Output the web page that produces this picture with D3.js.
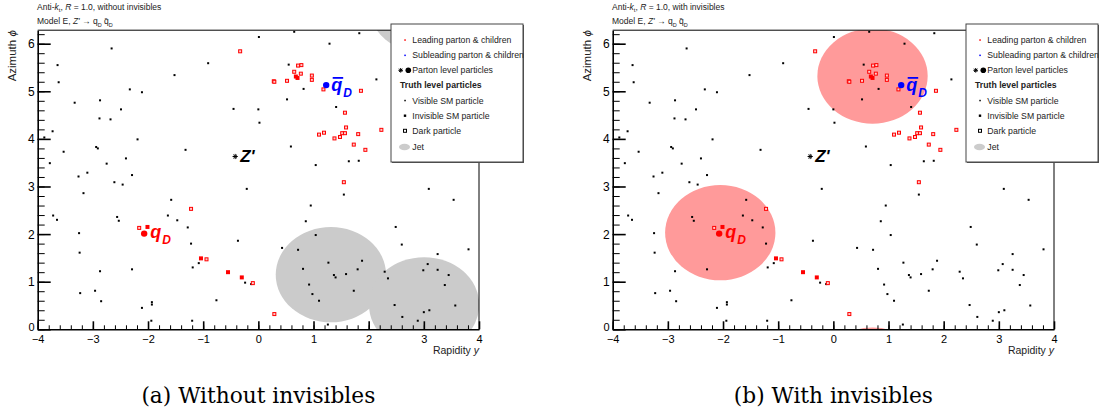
<!DOCTYPE html>
<html><head><meta charset="utf-8">
<script src="https://cdn.jsdelivr.net/npm/d3@7"></script>
<style>
body{margin:0;background:#fff}
svg text{font-family:"Liberation Sans",Arial,Helvetica,sans-serif}
svg text.caption{font-family:"DejaVu Serif",serif}
</style>
</head><body>
<svg id="chart" width="1100" height="417"></svg>
<script>
// Axis ticks
const xTicks = [-4, -3, -2, -1, 0, 1, 2, 3, 4];
const yTicks = [0, 1, 2, 3, 4, 5, 6];

// Event display: particles as [rapidity y, azimuth phi]
const visibleSM = [
  [-2.66,5.90],[-3.64,5.55],[-3.62,5.19],[-1.52,5.34],[-0.91,5.59],[-2.33,5.04],[-2.11,4.98],
  [-3.33,4.76],[-2.87,4.81],[-2.49,4.62],[-2.88,4.43],[-2.68,4.41],[-0.45,4.63],[-3.73,4.16],
  [-3.88,4.03],[-2.19,3.99],[-2.94,3.83],[-2.91,3.80],[-3.53,3.73],[-1.32,3.77],[-3.78,3.49],
  [-2.75,3.48],[-2.40,3.59],[-3.26,3.21],[-3.10,3.29],[-2.29,3.24],
  [0.01,6.14],[0.00,4.62],
  [-2.61,3.09],[-2.46,3.04],[-3.17,2.86],[-1.58,2.72],[-0.21,2.95],[-3.72,2.39],[-3.65,2.30],
  [-2.56,2.36],[-2.53,2.28],[-1.64,2.39],[-1.47,2.29],[-1.28,2.14],[-3.25,2.02],[-1.22,1.80],
  [-0.37,1.86],[-3.24,1.61],[-2.87,1.22],[-2.29,1.26],[-1.19,1.30],[-1.08,1.39],[-2.96,0.81],
  [-3.23,0.76],[-2.85,0.59],[-0.76,0.61],[-1.93,0.57],[-1.93,0.52],[-2.11,0.45],[-1.94,0.18],
  [-1.20,0.18],[-0.24,0.98],
  [1.55,2.83],[0.95,2.60],[0.86,2.27],[1.04,1.98],[0.43,1.71],[0.72,1.67],[1.27,1.40],
  [0.81,1.27],[1.37,1.14],[1.40,1.09],[1.59,1.16],[1.80,1.26],[1.88,1.44],[0.92,0.94],
  [1.73,0.81],[0.98,0.74],[1.10,0.60],[1.26,0.10],[-0.13,0.95],[2.49,2.15],[2.60,1.78],
  [3.09,2.95],[3.54,2.72],[3.81,1.68],[3.25,1.58],[2.29,1.21],[2.35,1.07],[2.99,1.24],
  [3.07,1.37],[3.25,1.25],[3.45,1.14],[3.38,0.93],[2.47,0.51],[3.57,0.50],[2.61,0.26],
  [3.00,0.36],[3.10,0.40],[2.89,0.18],
  [0.65,6.25],[1.83,6.22],[1.29,6.00],[0.55,5.56],[0.82,5.05],[2.14,5.25],[0.52,4.83],
  [1.41,4.67],[0.02,4.34],[0.59,3.84],[1.04,3.45],[1.64,3.53],[1.82,3.54]
];
const leadingDark = [
  [-0.33,5.84],[0.28,5.21],[-1.22,2.53],[-2.16,2.13],[-0.94,1.47],[-0.10,0.97],[0.29,0.32],
  [1.55,3.09],[0.72,5.54],[0.78,5.55],[0.65,5.41],[0.77,5.37],[0.29,5.20],[0.52,5.22],
  [0.97,5.33],[0.97,5.24],[1.18,5.04],[1.86,5.01],[1.57,4.55],[1.59,4.24],[1.10,4.09],
  [1.19,4.13],[1.52,4.12],[1.57,4.12],[1.38,4.01],[1.48,4.04],[1.81,4.10],[2.23,4.19],
  [1.73,3.88],[1.94,3.77]
];
const leadingInvisible = [[-2.01,2.15],[-1.04,1.49],[-0.55,1.20],[-0.30,1.09],[0.68,5.31],[0.71,5.28]];

// Parton level
const zPrime = [-0.42, 3.63];
const qD = [-2.07, 2.01];
const qbarD = [1.23, 5.13];

// Anti-kt jets, R = 1.0
const jetR = 1.0;
const jetsWithout = [[1.315, 1.147], [3.005, 0.515]];
const jetsWith = [[-2.05, 2.03], [0.71, 5.32]];

const legendLabels = ["Leading parton & children", "Subleading parton & children", "Parton level particles",
  "Truth level particles", "Visible SM particle", "Invisible SM particle", "Dark particle", "Jet"];

const TWO_PI = 2 * Math.PI;
const svg = d3.select("#chart");
svg.append("rect").attr("width", 1100).attr("height", 417).attr("fill", "#fff");

const x = d3.scaleLinear().domain([-4, 4]).range([37.7, 479]);
const y = d3.scaleLinear().domain([0, TWO_PI]).range([329.3, 30.2]);

function star(g, cx, cy, r) {
  let d = "";
  [0, 45, 90, 135].forEach(a => {
    const t = a * Math.PI / 180, dx = r * Math.cos(t), dy = r * Math.sin(t);
    d += `M${cx - dx},${cy - dy}L${cx + dx},${cy + dy}`;
  });
  g.append("path").attr("d", d).attr("stroke", "#000").attr("stroke-width", 1);
}

function panel(idx, dx, subtitle, jets, jetFill, caption) {
  const g = svg.append("g").attr("transform", `translate(${dx},0)`);
  const clipId = "clip" + idx;
  g.append("clipPath").attr("id", clipId).append("rect")
    .attr("x", x(-4)).attr("y", y(TWO_PI)).attr("width", x(4) - x(-4)).attr("height", y(0) - y(TWO_PI));

  // jets (with periodic copies in phi)
  const jg = g.append("g").attr("clip-path", `url(#${clipId})`);
  const rx = x(jetR) - x(0), ry = y(0) - y(jetR);
  jets.forEach(j => {
    [-TWO_PI, 0, TWO_PI].forEach(s => {
      jg.append("ellipse").attr("cx", x(j[0])).attr("cy", y(j[1] + s))
        .attr("rx", rx).attr("ry", ry).attr("fill", jetFill);
    });
  });

  // particles
  const pg = g.append("g").attr("clip-path", `url(#${clipId})`);
  pg.selectAll("rect.vis").data(visibleSM).join("rect").attr("class", "vis")
    .attr("x", d => x(d[0]) - 1).attr("y", d => y(d[1]) - 1).attr("width", 2).attr("height", 2).attr("fill", "#000");
  pg.selectAll("rect.inv").data(leadingInvisible).join("rect").attr("class", "inv")
    .attr("x", d => x(d[0]) - 2).attr("y", d => y(d[1]) - 2).attr("width", 4).attr("height", 4).attr("fill", "#f00");
  pg.selectAll("rect.dark").data(leadingDark).join("rect").attr("class", "dark")
    .attr("x", d => x(d[0]) - 1.5).attr("y", d => y(d[1]) - 1.5).attr("width", 3).attr("height", 3)
    .attr("fill", "#fcc").attr("stroke", "#f00").attr("stroke-width", 1);

  // parton level
  star(g, x(zPrime[0]), y(zPrime[1]), 2.6);
  g.append("text").attr("x", x(zPrime[0]) + 5).attr("y", y(zPrime[1]) + 5)
    .attr("font-size", 17).attr("font-weight", "bold").attr("font-style", "italic").text("Z'");
  g.append("circle").attr("cx", x(qD[0])).attr("cy", y(qD[1])).attr("r", 3.2).attr("fill", "#f00");
  const t1 = g.append("text").attr("x", x(qD[0]) + 6).attr("y", y(qD[1]) + 4)
    .attr("fill", "#f00").attr("font-weight", "bold").attr("font-style", "italic");
  t1.append("tspan").attr("font-size", 18).text("q");
  t1.append("tspan").attr("font-size", 12).attr("dy", 6).attr("dx", 1).text("D");
  g.append("circle").attr("cx", x(qbarD[0])).attr("cy", y(qbarD[1])).attr("r", 3.2).attr("fill", "#00f");
  const qbx = x(qbarD[0]) + 5, qby = y(qbarD[1]) + 6;
  const t2 = g.append("text").attr("x", qbx).attr("y", qby)
    .attr("fill", "#00f").attr("font-weight", "bold").attr("font-style", "italic");
  t2.append("tspan").attr("font-size", 18).text("q");
  t2.append("tspan").attr("font-size", 12).attr("dy", 6).attr("dx", 1).text("D");
  g.append("line").attr("x1", qbx + 1.5).attr("x2", qbx + 12).attr("y1", qby - 13.2).attr("y2", qby - 13.2)
    .attr("stroke", "#00f").attr("stroke-width", 1.8);

  // frame
  g.append("line").attr("x1", x(-4)).attr("x2", x(4)).attr("y1", y(TWO_PI)).attr("y2", y(TWO_PI)).attr("stroke", "#000");
  g.append("line").attr("x1", x(4)).attr("x2", x(4)).attr("y1", y(TWO_PI)).attr("y2", y(0)).attr("stroke", "#000");

  // axes
  const yMinor = d3.range(0, 6.3, 0.2).filter(v => v <= TWO_PI);
  const xMinor = d3.range(-4, 4.01, 0.2);
  const ya = g.append("g").attr("transform", `translate(${x(-4)},0)`)
    .call(d3.axisLeft(y).tickValues(yTicks).tickSize(-13).tickSizeOuter(0).tickPadding(3).tickFormat(d3.format("d")));
  g.append("g").attr("transform", `translate(${x(-4)},0)`)
    .call(d3.axisLeft(y).tickValues(yMinor).tickSize(-7).tickSizeOuter(0).tickFormat(""))
    .call(a => a.select(".domain").remove());
  const xa = g.append("g").attr("transform", `translate(0,${y(0)})`)
    .call(d3.axisBottom(x).tickValues(xTicks).tickSize(-8).tickSizeOuter(0).tickPadding(6).tickFormat(d3.format("d")));
  g.append("g").attr("transform", `translate(0,${y(0)})`)
    .call(d3.axisBottom(x).tickValues(xMinor).tickSize(-4).tickSizeOuter(0).tickFormat(""))
    .call(a => a.select(".domain").remove());
  ya.selectAll("text").attr("font-size", 12).attr("dy", "0.34em");
  // keep the bottom "0" clear of the first x label
  ya.selectAll(".tick").filter(d => d === 0).select("text").attr("font-size", 11).attr("dy", "0.1em");
  xa.selectAll("text").attr("font-size", 11);
  [ya, xa].forEach(a => {
    a.selectAll("text").attr("fill", "#000");
    a.select(".domain").attr("stroke-width", 1.6);
    a.selectAll(".tick line").attr("stroke-width", 1.6);
  });
  g.selectAll(".tick line").attr("stroke", "#000");

  g.append("text").attr("transform", `translate(${x(-4) - 22},${y(TWO_PI)}) rotate(-90)`)
    .attr("text-anchor", "end").attr("font-size", 11.5).attr("fill", "#222")
    .call(t => { t.append("tspan").text("Azimuth "); t.append("tspan").attr("font-style", "italic").text("ϕ"); });
  g.append("text").attr("x", x(4)).attr("y", 354).attr("text-anchor", "end").attr("font-size", 10.5).attr("fill", "#222")
    .call(t => { t.append("tspan").text("Rapidity "); t.append("tspan").attr("font-style", "italic").text("y"); });

  // titles
  const ti = g.append("text").attr("x", 37).attr("y", 9.5).attr("font-size", 8.5).attr("fill", "#222");
  ti.append("tspan").text("Anti-");
  ti.append("tspan").attr("font-style", "italic").text("k");
  ti.append("tspan").attr("font-size", 6).attr("dy", 2).text("t");
  ti.append("tspan").attr("dy", -2).text(", ");
  ti.append("tspan").attr("font-style", "italic").text("R");
  ti.append("tspan").text(" = 1.0, " + subtitle);
  const t3 = g.append("text").attr("x", 37).attr("y", 23.5).attr("font-size", 8.5).attr("fill", "#222");
  t3.append("tspan").text("Model E, ");
  t3.append("tspan").attr("font-style", "italic").text("Z'");
  t3.append("tspan").text(" \u2192 q");
  t3.append("tspan").attr("font-size", 5.5).attr("dy", 3).text("D");
  t3.append("tspan").attr("dy", -3).text(" q\u0304");
  t3.append("tspan").attr("font-size", 5.5).attr("dy", 3).text("D");

  // legend
  const lg = g.append("g");
  lg.append("rect").attr("x", 392).attr("y", 25).attr("width", 132).attr("height", 138).attr("fill", "#555");
  lg.append("rect").attr("x", 391).attr("y", 24).attr("width", 132).attr("height", 138)
    .attr("fill", "#fff").attr("stroke", "#444").attr("stroke-width", 1);
  const ey = [40, 55.3, 70.3, 85.3, 100.5, 115.7, 130.8, 147];
  legendLabels.forEach((lab, i) => {
    const isHeader = i === 3;
    lg.append("text").attr("x", isHeader ? 400 : 412.3).attr("y", ey[i] + 3)
      .attr("font-size", 8.7).attr("fill", "#222").attr("font-weight", isHeader ? "bold" : "normal").text(lab);
  });
  lg.append("rect").attr("x", 404.3).attr("y", ey[0] - 0.7).attr("width", 1.5).attr("height", 1.5).attr("fill", "#f00");
  lg.append("rect").attr("x", 404.3).attr("y", ey[1] - 0.7).attr("width", 1.5).attr("height", 1.5).attr("fill", "#00f");
  star(lg, 400.7, ey[2], 2.3);
  lg.append("circle").attr("cx", 408.3).attr("cy", ey[2]).attr("r", 2.8).attr("fill", "#000");
  lg.append("rect").attr("x", 404.3).attr("y", ey[4] - 0.7).attr("width", 1.5).attr("height", 1.5).attr("fill", "#000");
  lg.append("rect").attr("x", 403.8).attr("y", ey[5] - 1.2).attr("width", 2.4).attr("height", 2.4).attr("fill", "#000");
  lg.append("rect").attr("x", 403.5).attr("y", ey[6] - 1.5).attr("width", 3).attr("height", 3)
    .attr("fill", "#fff").attr("stroke", "#000").attr("stroke-width", 1);
  lg.append("ellipse").attr("cx", 404.5).attr("cy", ey[7]).attr("rx", 5.5).attr("ry", 3.3).attr("fill", "#ccc");

  // caption
  const cap = g.append("text").attr("class", "caption").attr("x", (x(-4) + x(4)) / 2).attr("y", 403)
    .attr("text-anchor", "middle").attr("font-size", 20).attr("fill", "#000").text(caption);
  return cap;
}

const capA = panel(0, 0, "without invisibles", jetsWithout, "#cbcbcb", "(a) Without invisibles");
const capB = panel(1, 575, "with invisibles", jetsWith, "#ff9a9a", "(b) With invisibles");
// size captions so "(a) Without invisibles" spans about 234px
const fs = 20 * 234 / capA.node().getComputedTextLength();
capA.attr("font-size", fs); capB.attr("font-size", fs);
</script>
</body></html>
